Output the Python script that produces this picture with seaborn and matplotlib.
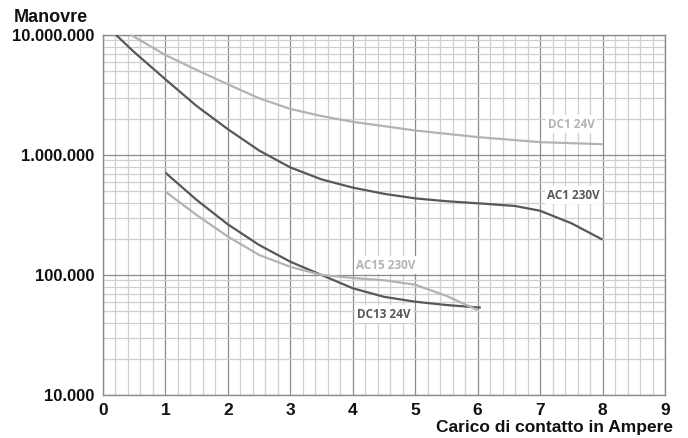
import numpy as np
import pandas as pd
import matplotlib.pyplot as plt
import seaborn as sns
from matplotlib.ticker import FixedLocator, MultipleLocator, FuncFormatter, NullFormatter

# Curve values (current in A, operations)
dc1_x = [0.45, 1.0, 1.5, 2.0, 2.5, 3.0, 3.5, 4.0, 4.5, 5.0, 6.0, 7.0, 8.0]
dc1_y = [10000000, 6810000, 5110000, 3880000, 2970000, 2420000, 2110000, 1890000, 1740000,
         1600000, 1410000, 1280000, 1230000]

ac1_x = [0.21, 0.5, 1.0, 1.5, 2.0, 2.5, 3.0, 3.5, 4.0, 4.5, 5.0, 5.5, 6.0, 6.6, 7.0, 7.5, 8.0]
ac1_y = [10000000, 7200000, 4270000, 2560000, 1640000, 1090000, 788000, 626000, 535000, 475000,
         435000, 412000, 396000, 376000, 343000, 270000, 197000]

dc13_x = [1.0, 1.5, 2.0, 2.5, 3.0, 3.5, 4.0, 4.5, 5.0, 5.5, 6.0, 6.05]
dc13_y = [712000, 422000, 264000, 178000, 129000, 100000, 77500, 65800, 59900, 56200, 53700, 53600]

ac15_x = [1.0, 1.5, 2.0, 2.5, 3.0, 3.5, 4.0, 4.5, 5.0, 5.5, 6.0]
ac15_y = [495000, 316000, 209000, 147000, 117000, 100000, 94500, 90400, 83000, 67000, 51000]

series_names = ["DC1 24V", "AC1 230V", "DC13 24V", "AC15 230V"]
x_ticks = list(range(0, 10))
y_ticks = [10000, 100000, 1000000, 10000000]

DARK = "#57575c"
LIGHT = "#b3b3b3"

frames = []
for name, xs, ys in zip(series_names, [dc1_x, ac1_x, dc13_x, ac15_x], [dc1_y, ac1_y, dc13_y, ac15_y]):
    frames.append(pd.DataFrame({"A": xs, "ops": ys, "serie": name}))
df = pd.concat(frames, ignore_index=True)

sns.set_style("white")
plt.rcParams["font.family"] = ["Liberation Sans", "DejaVu Sans"]

fig = plt.figure(figsize=(6.88, 4.38), dpi=100)
ax = fig.add_axes([103 / 688, 1 - 395 / 438, 562 / 688, 360 / 438])

palette = {"DC1 24V": LIGHT, "AC1 230V": DARK, "DC13 24V": DARK, "AC15 230V": LIGHT}
sns.lineplot(data=df, x="A", y="ops", hue="serie", palette=palette, linewidth=1.6,
             legend=False, ax=ax, zorder=3, sort=True)
for ln in ax.get_lines():
    ln.set_solid_joinstyle("round")
    ln.set_solid_capstyle("butt")

ax.set_yscale("log")
ax.set_xlim(0, 9)
ax.set_ylim(10000, 10000000)

ax.xaxis.set_major_locator(FixedLocator(x_ticks))
ax.xaxis.set_minor_locator(MultipleLocator(0.2))
ax.yaxis.set_major_locator(FixedLocator(y_ticks))
ax.yaxis.set_minor_locator(FixedLocator([m * 10 ** e for e in range(4, 7) for m in range(2, 10)]))
ax.yaxis.set_minor_formatter(NullFormatter())
ax.yaxis.set_major_formatter(FuncFormatter(lambda v, p: f"{int(round(v)):,}".replace(",", ".")))

ax.grid(which="major", color="#8c8c8c", linewidth=0.9, zorder=0)
ax.grid(which="minor", color="#cfcfcf", linewidth=0.9, zorder=0)
ax.set_axisbelow(True)
for s in ax.spines.values():
    s.set_color("#8c8c8c")
    s.set_linewidth(1)

ax.tick_params(axis="y", which="major", length=4, color="#8c8c8c", pad=2, labelsize=12)
ax.tick_params(axis="x", which="major", length=0, pad=6, labelsize=12.5)
ax.tick_params(which="minor", length=0)
for lbl in ax.get_xticklabels() + ax.get_yticklabels():
    lbl.set_fontweight("bold")
    lbl.set_color("#111111")

ax.set_xlabel("")
ax.set_ylabel("")

fig.text(14 / 688, 1 - 22 / 438, "Manovre", fontsize=13, fontweight="bold", color="#111111",
         ha="left", va="baseline")
fig.text(673 / 688, 1 - 432 / 438, "Carico di contatto in Ampere", fontsize=12.5,
         fontweight="bold", color="#111111", ha="right", va="baseline")

# curve labels
labels = [("DC1 24V", 7.5, 1810000, LIGHT), ("AC1 230V", 7.53, 464000, DARK),
          ("AC15 230V", 4.53, 121000, LIGHT), ("DC13 24V", 4.5, 47300, DARK)]
for txt, lx, ly, col in labels:
    ax.text(lx, ly, txt, fontsize=8.5, fontweight="bold", color=col, family=["Open Sans", "DejaVu Sans"],
            ha="center", va="center", zorder=4,
            bbox=dict(facecolor="white", edgecolor="none", pad=1.5))

fig.savefig("out.png", dpi=100)
plt.close(fig)
